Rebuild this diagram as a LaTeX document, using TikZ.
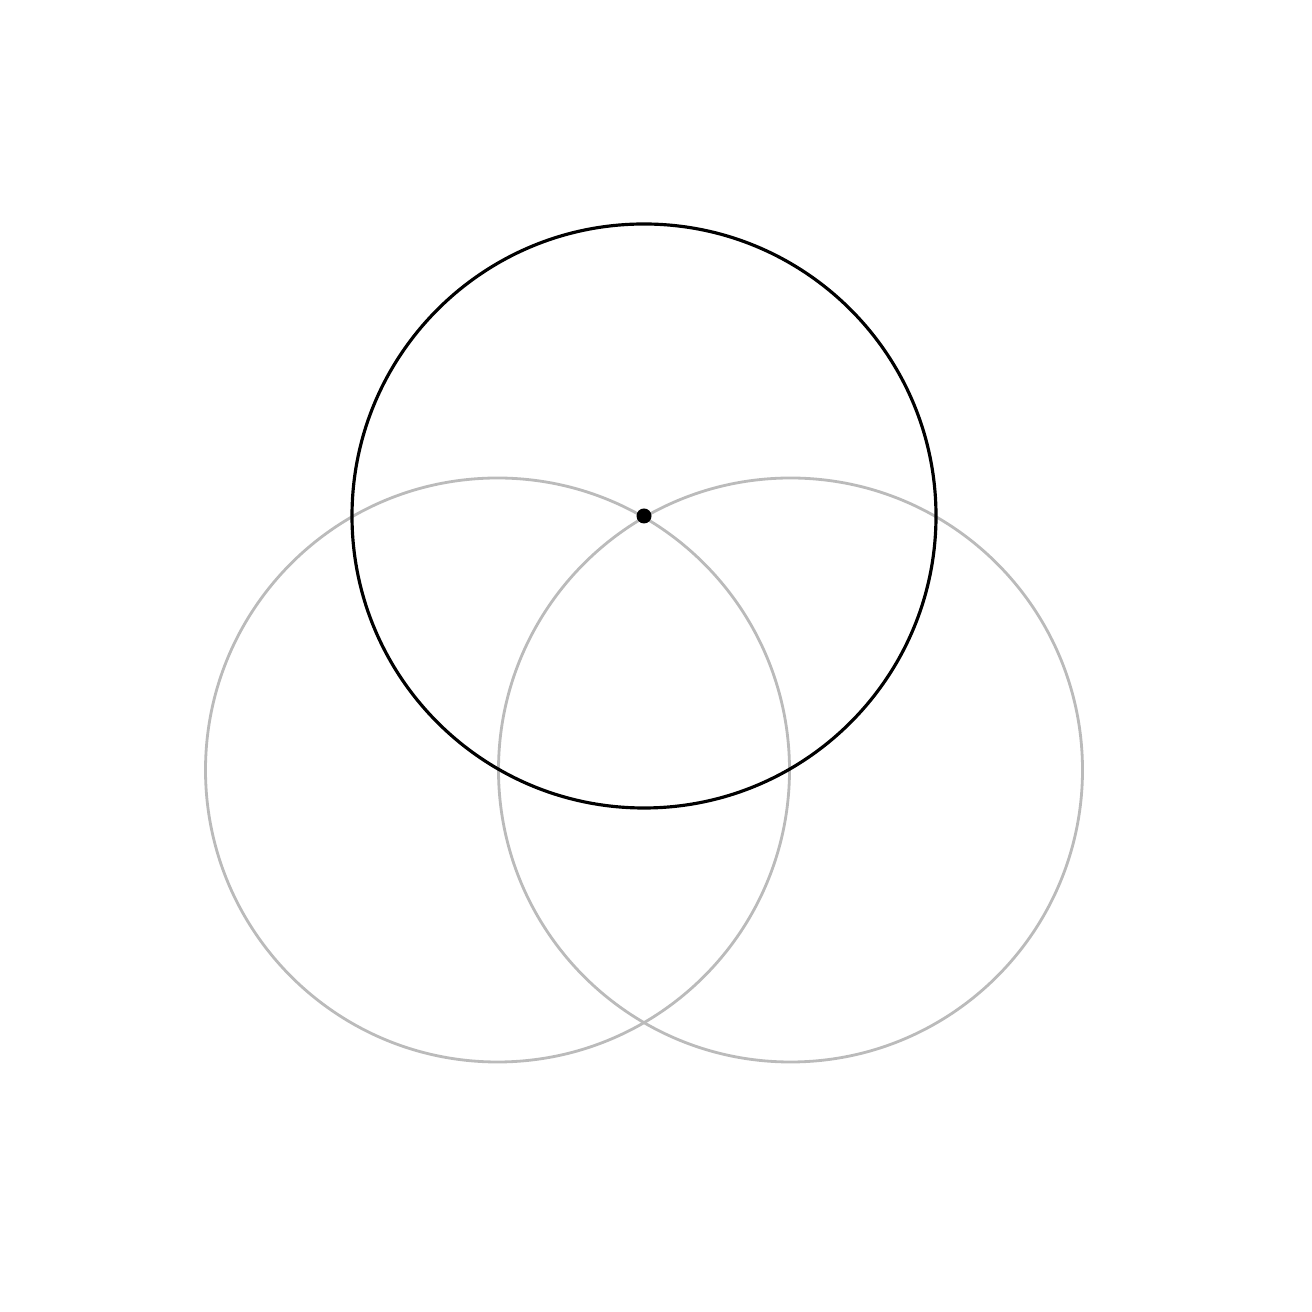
\documentclass[tikz,border=0pt]{standalone}
\usepackage{tikz}
\usepackage{xcolor}
\usetikzlibrary{calc}
\definecolor{cxgray}{HTML}{BBBBBB}

\begin{document}
\begin{tikzpicture}[
  x=0.01cm, y=0.01cm,
  maincircle/.style={draw=black, line width=0.9pt},
  sidecircle/.style={draw=cxgray, line width=0.8pt},
]
\useasboundingbox (0, 0) rectangle (1312, 1312);

% Centres
\coordinate (top) at (644, 796);
\coordinate (left) at (497.5, 542);
\coordinate (right) at (790.5, 542);

% Circles
\draw[sidecircle] (left) circle[radius=292];
\draw[sidecircle] (right) circle[radius=292];
\draw[maincircle] (top) circle[radius=292];

\fill (top) circle[radius=7.5];
\end{tikzpicture}
\end{document}
